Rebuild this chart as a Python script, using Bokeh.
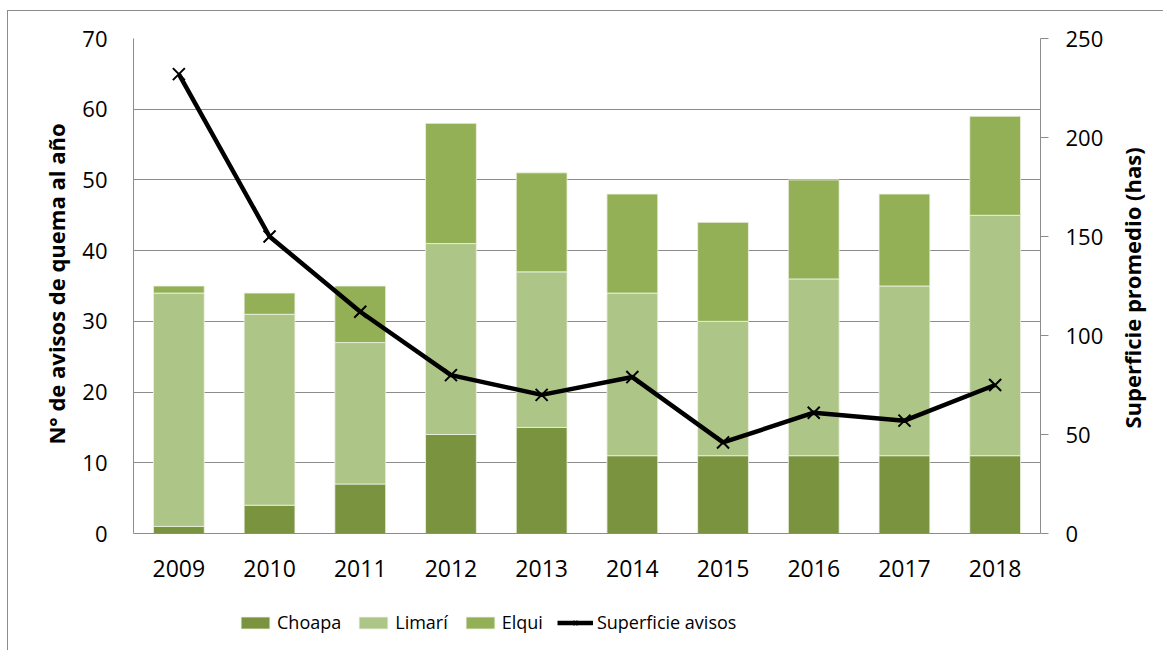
import math
from bokeh.plotting import figure
from bokeh.models import (FactorRange, Range1d, LinearAxis, FixedTicker, Legend,
                          LegendItem, ColumnDataSource)
from bokeh.embed import file_html
from bokeh.resources import INLINE

years = ["2009", "2010", "2011", "2012", "2013", "2014", "2015", "2016", "2017", "2018"]
choapa = [1, 4, 7, 14, 15, 11, 11, 11, 11, 11]
limari = [33, 27, 20, 27, 22, 23, 19, 25, 24, 34]
elqui = [1, 3, 8, 17, 14, 14, 14, 14, 13, 14]
superficie = [232, 150, 112, 80, 70, 79, 46, 61, 57, 75]

left_ticks = [0, 10, 20, 30, 40, 50, 60, 70]
right_ticks = [0, 50, 100, 150, 200, 250]
LEFT_MAX, RIGHT_MAX = 70, 250
left_title = "N° de avisos de quema al año"
right_title = "Superficie promedio (has)"

FONT = "Open Sans"
GRAY = "#8c8c8c"
C_CHOAPA = "#79933f"
C_LIMARI = "#adc687"
C_ELQUI = "#93b057"

src = ColumnDataSource(dict(year=years, choapa=choapa, limari=limari,
                            elqui=elqui, sup=superficie))

# layout (page pixels): canvas origin after css margin + border
OX, OY = 8, 11
W, H = 1156, 640
F_LEFT, F_RIGHT, F_TOP, ZERO_Y = 133, 1040, 38, 533
F_BOTTOM = OY + H - 5          # frame extends below zero line to host labels/legend
px_per = (ZERO_Y - F_TOP) / LEFT_MAX
y_min = -(F_BOTTOM - ZERO_Y) / px_per

p = figure(x_range=FactorRange(factors=years, range_padding=0),
           y_range=Range1d(y_min, LEFT_MAX), width=W, height=H,
           output_backend="svg", toolbar_location=None,
           min_border_left=F_LEFT - OX, min_border_right=W - (F_RIGHT - OX),
           min_border_top=F_TOP - OY, min_border_bottom=OY + H - F_BOTTOM)
p.styles = {"margin-left": "7px", "margin-top": "10px",
            "border-left": "1px solid #8c8c8c", "border-top": "1px solid #8c8c8c"}
p.outline_line_color = None
p.extra_y_ranges = {"sup": Range1d(y_min * RIGHT_MAX / LEFT_MAX, RIGHT_MAX)}

bars = p.vbar_stack(["choapa", "limari", "elqui"], x="year", width=0.56, source=src,
                    fill_color=[C_CHOAPA, C_LIMARI, C_ELQUI],
                    line_color="#eef2e4", line_width=0.8)
ln = p.line(x="year", y="sup", source=src, y_range_name="sup",
            line_color="black", line_width=4.5)
mk = p.scatter(x="year", y="sup", source=src, y_range_name="sup", marker="x",
               size=17, line_color="black", line_width=2)

p.xgrid.grid_line_color = None
p.ygrid.ticker = FixedTicker(ticks=left_ticks)
p.ygrid.grid_line_color = GRAY
p.ygrid.grid_line_width = 1


def style_ticks(ax, size="22px"):
    ax.major_tick_in = 0
    ax.minor_tick_out = 0
    ax.minor_tick_in = 0
    ax.major_label_text_font = FONT
    ax.major_label_text_font_size = size
    ax.major_label_text_color = "black"


ya = p.yaxis[0]
ya.ticker = FixedTicker(ticks=left_ticks)
ya.bounds = (0, LEFT_MAX)
style_ticks(ya)
ya.major_tick_out = 0
ya.axis_line_color = GRAY
ya.major_label_standoff = 26

xa = p.xaxis[0]
xa.fixed_location = 0
style_ticks(xa, "23px")
xa.major_tick_out = 0
xa.axis_line_color = GRAY
xa.major_label_standoff = 26

ra = LinearAxis(y_range_name="sup", ticker=FixedTicker(ticks=right_ticks))
ra.bounds = (0, RIGHT_MAX)
style_ticks(ra)
ra.major_tick_out = 8
ra.axis_line_color = GRAY
ra.major_tick_line_color = GRAY
ra.major_label_standoff = 17
p.add_layout(ra, "right")

# axis titles drawn as single rotated labels of bare axes (exact placement)
lt_pos = (ZERO_Y - 123) / px_per            # where the title's top end sits
lt = LinearAxis(ticker=FixedTicker(ticks=[lt_pos]),
                major_label_overrides={lt_pos: left_title},
                major_label_orientation=math.pi / 2)
style_ticks(lt)
lt.major_tick_out = 0
lt.axis_line_color = None
lt.major_label_standoff = 24
lt.major_label_text_font_style = "bold"
p.add_layout(lt, "left")

rt_pos = (ZERO_Y - 428) * RIGHT_MAX / (ZERO_Y - F_TOP)   # title's bottom start
rt = LinearAxis(y_range_name="sup", ticker=FixedTicker(ticks=[rt_pos]),
                major_label_overrides={rt_pos: right_title},
                major_label_orientation=math.pi / 2)
style_ticks(rt)
rt.major_tick_out = 0
rt.axis_line_color = None
rt.major_label_standoff = 25
rt.major_label_text_font_style = "bold"
p.add_layout(rt, "right")

legend = Legend(items=[
    LegendItem(label="Choapa", renderers=[bars[0]]),
    LegendItem(label="Limarí", renderers=[bars[1]]),
    LegendItem(label="Elqui", renderers=[bars[2]]),
    LegendItem(label="Superficie avisos", renderers=[ln, mk]),
], orientation="horizontal", location=(237 - F_LEFT, F_BOTTOM - 634),
    glyph_width=36, glyph_height=15,
    label_standoff=4, spacing=14, padding=0, margin=0,
    border_line_alpha=0, background_fill_alpha=0,
    label_text_font=FONT, label_text_font_size="18px", label_text_color="black")
p.add_layout(legend)

open("out.html", "w").write(file_html(p, INLINE))
